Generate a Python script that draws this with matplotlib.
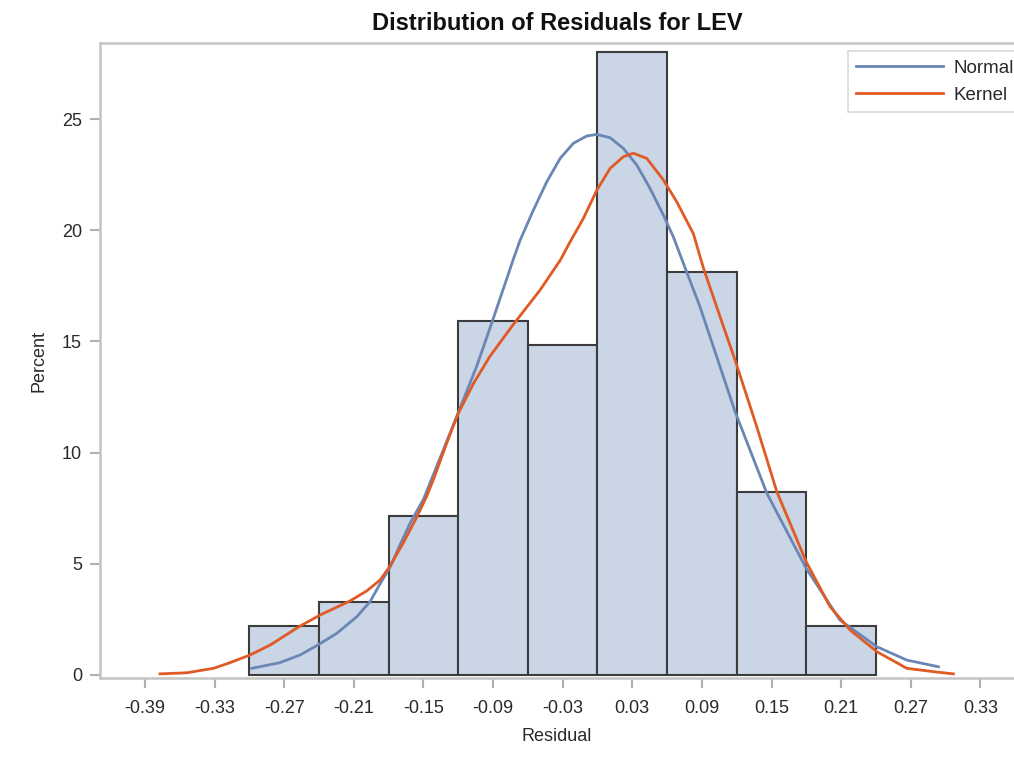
import matplotlib
matplotlib.use("Agg")
import matplotlib.pyplot as plt

plt.rcParams['font.family'] = ['Liberation Sans', 'DejaVu Sans']
plt.rcParams['axes.unicode_minus'] = False

# Histogram data (bin midpoints, percent)
bin_mids = [-0.27, -0.21, -0.15, -0.09, -0.03, 0.03, 0.09, 0.15, 0.21]
percents = [2.2, 3.3, 7.14, 15.93, 14.84, 28.02, 18.13, 8.24, 2.2]
bin_width = 0.06

# Normal curve points
normal_x = [-0.298, -0.274, -0.2564, -0.242, -0.2248, -0.2075, -0.196, -0.1874,
            -0.1788, -0.1702, -0.1616, -0.150, -0.120, -0.104, -0.091, -0.0725,
            -0.0667, -0.0553, -0.0437, -0.0322, -0.0208, -0.0092, -0.0006, 0.0109,
            0.0223, 0.0339, 0.0453, 0.0568, 0.0654, 0.0712, 0.0884, 0.1186, 0.146,
            0.1798, 0.209, 0.2408, 0.2666, 0.2939]
normal_y = [0.30, 0.55, 0.90, 1.32, 1.87, 2.62, 3.30, 4.10,
            4.85, 5.85, 6.82, 7.90, 11.80, 13.90, 15.85, 18.70,
            19.55, 20.90, 22.18, 23.23, 23.91, 24.24, 24.31, 24.16,
            23.68, 22.93, 21.88, 20.68, 19.70, 18.90, 16.55, 11.84, 8.17,
            4.80, 2.47, 1.27, 0.67, 0.37]

# Kernel curve points
kernel_x = [-0.377, -0.354, -0.331, -0.317, -0.2995, -0.282, -0.258, -0.239,
            -0.2133, -0.1989, -0.1874, -0.1788, -0.1673, -0.1558, -0.1471, -0.141,
            -0.130, -0.120, -0.107, -0.093, -0.075, -0.0696, -0.0495, -0.032,
            -0.0236, -0.0122, -0.0006, 0.0109, 0.0223, 0.031, 0.0425, 0.0568,
            0.0683, 0.0826, 0.0913, 0.1086, 0.1186, 0.1373, 0.1546, 0.1798,
            0.2005, 0.2178, 0.2408, 0.2666, 0.2896, 0.3068]
kernel_y = [0.05, 0.10, 0.30, 0.55, 0.90, 1.35, 2.15, 2.70,
            3.33, 3.78, 4.27, 4.90, 5.95, 7.10, 8.05, 8.85,
            10.42, 11.77, 13.10, 14.31, 15.59, 15.96, 17.31, 18.66,
            19.48, 20.53, 21.80, 22.78, 23.31, 23.46, 23.23, 22.26,
            21.28, 19.85, 18.30, 15.66, 14.16, 11.16, 8.24, 5.10,
            3.07, 2.02, 1.05, 0.30, 0.15, 0.05]

x_ticks = [-0.39, -0.33, -0.27, -0.21, -0.15, -0.09, -0.03, 0.03, 0.09, 0.15, 0.21, 0.27, 0.33]
x_tick_labels = ["-0.39", "-0.33", "-0.27", "-0.21", "-0.15", "-0.09", "-0.03",
                 "0.03", "0.09", "0.15", "0.21", "0.27", "0.33"]
y_ticks = [0, 5, 10, 15, 20, 25]

W, H = 1014, 758
fig = plt.figure(figsize=(W / 100, H / 100), dpi=100)
ax = fig.add_axes([100 / W, 1 - 678 / H, 1 - 100 / W, (678 - 43) / H])

ax.bar(bin_mids, percents, width=bin_width, color='#cad5e6', edgecolor='#3c3c3c',
       linewidth=1.5, zorder=2)
ax.plot(normal_x, normal_y, color='#6a86b4', linewidth=2.0, label='Normal', zorder=3,
        solid_joinstyle='round')
ax.plot(kernel_x, kernel_y, color='#e05a24', linewidth=2.0, label='Kernel', zorder=4,
        solid_joinstyle='round')

ax.set_xlim(-0.4288, 0.359)
ax.set_ylim(-0.135, 28.42)

ax.set_xticks(x_ticks)
ax.set_xticklabels(x_tick_labels)
ax.set_yticks(y_ticks)

for s in ['left', 'bottom', 'top']:
    ax.spines[s].set_color('#c4c4c4')
    ax.spines[s].set_linewidth(1.8)
ax.spines['right'].set_visible(False)

ax.tick_params(axis='both', colors='#b0b0b0', length=7, width=1.5,
               labelcolor='#2a2a2a', labelsize=13)
ax.tick_params(axis='x', pad=9)
ax.tick_params(axis='y', pad=6)

ax.set_xlabel('Residual', fontsize=13, color='#2a2a2a', labelpad=8)
ax.set_ylabel('Percent', fontsize=13, color='#2a2a2a', labelpad=10)
ax.set_title('Distribution of Residuals for LEV', fontsize=17, fontweight='bold',
             color='#111111', pad=9)

leg = fig.legend(loc='upper left', bbox_to_anchor=(848 / W, 1 - 51 / H),
                 fontsize=13.5, frameon=True, fancybox=False, handlelength=4.6,
                 handletextpad=0.6, borderpad=0.45, labelspacing=0.55,
                 borderaxespad=0)
leg.get_frame().set_edgecolor('#d0d0d0')
leg.get_frame().set_linewidth(1.2)
for t in leg.get_texts():
    t.set_color('#2a2a2a')

fig.savefig('out.png', dpi=100)
